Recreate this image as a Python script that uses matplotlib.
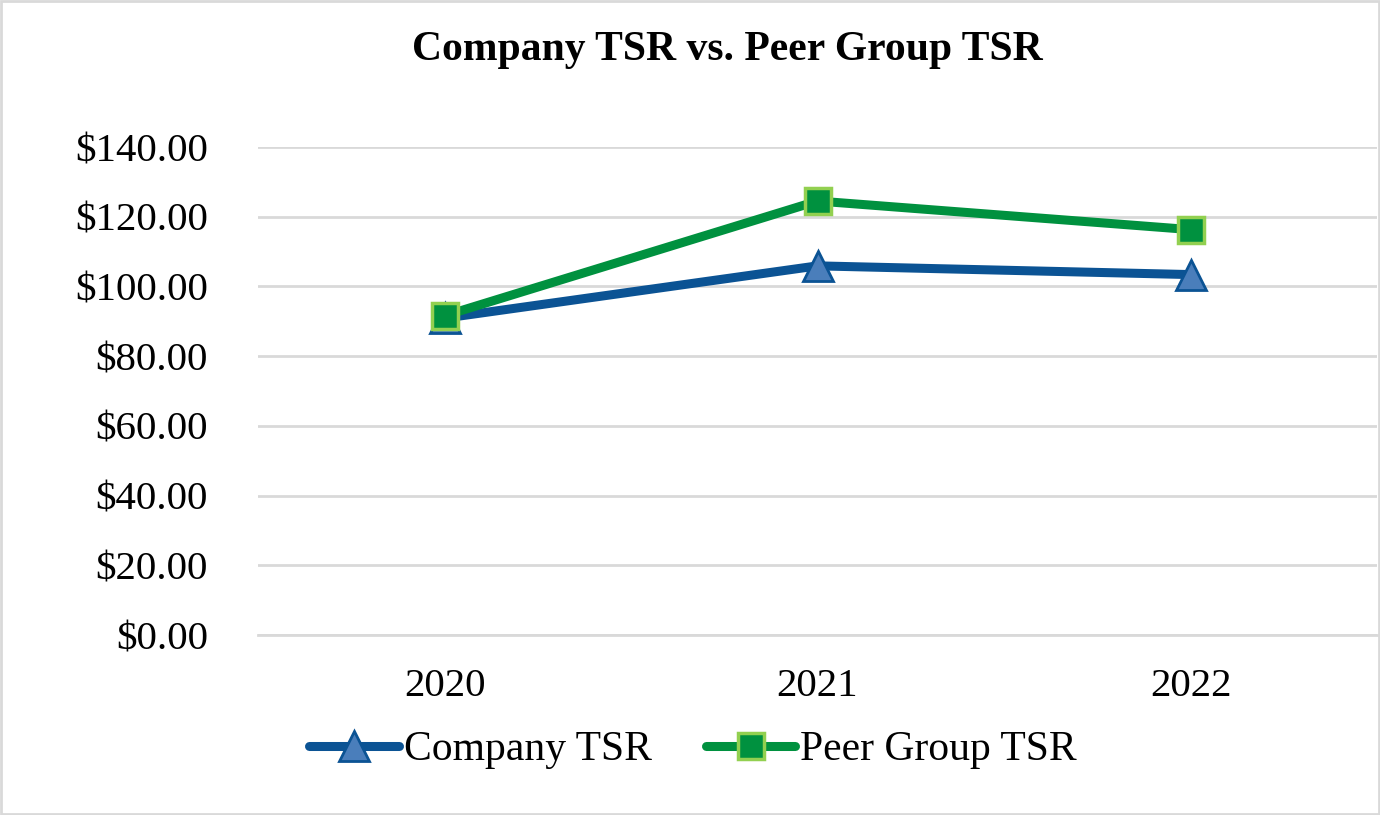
import matplotlib
matplotlib.use("Agg")
import matplotlib.pyplot as plt
from matplotlib.patches import Rectangle

years = ["2020", "2021", "2022"]
company_tsr = [90.9, 105.9, 103.4]
peer_tsr = [91.6, 124.5, 116.3]
yticks = [0, 20, 40, 60, 80, 100, 120, 140]

plt.rcParams['font.family'] = ['Liberation Serif', 'DejaVu Serif']

fig = plt.figure(figsize=(13.8, 8.15), dpi=100)
ax = fig.add_axes([258/1380, 1 - 635/815, (1377-258)/1380, (635-147)/815])

x = list(range(len(years)))
ax.plot(x, company_tsr, color='#0b5394', lw=6.5, marker='^', markersize=22,
        markerfacecolor='#4a7ebb', markeredgecolor='#0b5394', markeredgewidth=2,
        label='Company TSR', solid_capstyle='round', zorder=3)
ax.plot(x, peer_tsr, color='#00913f', lw=6.5, marker='s', markersize=19,
        markerfacecolor='#00913f', markeredgecolor='#92d050', markeredgewidth=2.5,
        label='Peer Group TSR', solid_capstyle='round', zorder=4)

ax.set_xlim(-0.5, 2.5)
ax.set_ylim(0, 140)
ax.set_yticks(yticks)
ax.set_yticklabels([f"${v:.2f}" for v in yticks])
ax.set_xticks(x)
ax.set_xticklabels(years)
ax.yaxis.grid(True, color='#d9d9d9', lw=2)
ax.set_axisbelow(True)
for s in ['top', 'right', 'left']:
    ax.spines[s].set_visible(False)
ax.spines['bottom'].set_color('#d9d9d9')
ax.spines['bottom'].set_linewidth(2)
ax.tick_params(axis='both', length=0, labelsize=29.5, colors='black')
ax.tick_params(axis='y', pad=36)
ax.tick_params(axis='x', pad=24)

fig.text(727/1380, 1 - 50/815, "Company TSR vs. Peer Group TSR", ha='center', va='center',
         fontsize=30, fontweight='bold')

leg = fig.legend(loc='center', bbox_to_anchor=(693/1380, 1 - 750/815), ncol=2, frameon=False,
                 fontsize=30, handlelength=2.15, handletextpad=0.12, columnspacing=1.3)

fig.patches.append(Rectangle((1/1380, 1/815), 1 - 2/1380, 1 - 2/815, transform=fig.transFigure,
                             fill=False, edgecolor='#d9d9d9', lw=2))

fig.savefig("out.png", dpi=100)
